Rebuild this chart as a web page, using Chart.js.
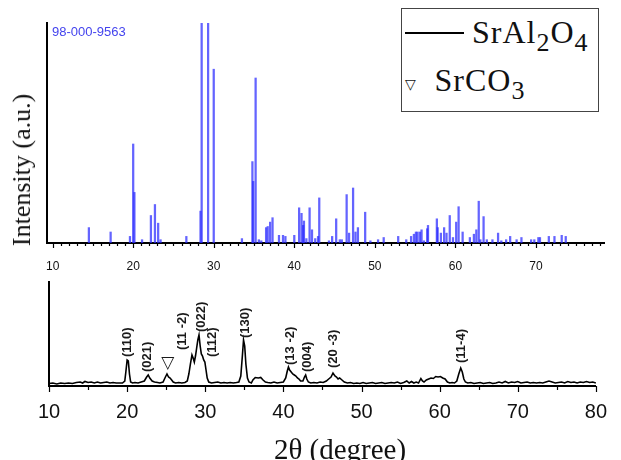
<!DOCTYPE html>
<html>
<head>
<meta charset="utf-8">
<script src="https://cdn.jsdelivr.net/npm/chart.js@4.4.1/dist/chart.umd.min.js"></script>
<style>
  html, body { margin: 0; padding: 0; background: #fff; }
  #wrap { position: relative; width: 621px; height: 460px; overflow: hidden; }
  canvas { position: absolute; left: 0; }
  #topCanvas { top: 0; }
  #bottomCanvas { top: 270px; }
  .serif { position: absolute; white-space: nowrap; color: #111;
           font-family: "Liberation Serif", "Times New Roman", serif; }
  #yTitle { font-size: 26px; left: 22px; top: 170px; transform: translate(-50%, -50%) rotate(-90deg); }
  #xTitle { font-size: 29px; left: 340px; top: 449px; transform: translate(-50%, -50%); }
  #refCode { position: absolute; left: 52px; top: 24px; font: 13px "Liberation Sans", Arial, sans-serif;
             color: #4444ee; line-height: 16px; }
  #legend { position: absolute; left: 401px; top: 8px; width: 198px; height: 104px; box-sizing: border-box;
            border: 1.5px solid #444; background: #fff; }
  #legend .line { position: absolute; left: 2.5px; top: 22.5px; width: 59px; height: 2px; background: #000; }
  #legend .txt { position: absolute; font-size: 32px; line-height: 32px; letter-spacing: 1px; }
  #legend .sub { font-size: 26px; position: relative; top: 8px; }
  #legend .tri { position: absolute; left: 3px; top: 68px; font: 14px "DejaVu Sans", sans-serif; line-height: 14px; color: #111; }
</style>
</head>
<body>
<div id="wrap">
  <canvas id="topCanvas" width="621" height="280"></canvas>
  <canvas id="bottomCanvas" width="621" height="190"></canvas>
  <div id="refCode">98-000-9563</div>
  <div id="yTitle" class="serif">Intensity (a.u.)</div>
  <div id="xTitle" class="serif">2θ (degree)</div>
  <div id="legend">
    <div class="line"></div>
    <div class="txt serif" style="left:70px; top:6.5px;">SrAl<span class="sub">2</span>O<span class="sub">4</span></div>
    <div class="tri">▽</div>
    <div class="txt serif" style="left:32.5px; top:54.5px;">SrCO<span class="sub">3</span></div>
  </div>
</div>

<script>
// ── DATA ─────────────────────────────────────────────
// reference card 98-000-9563 : stick positions (2θ) and relative heights (%)
const refAngles = [
  14.5, 17.2, 19.6, 20.0, 20.15, 21.1, 22.2, 22.7, 23.1, 23.4, 26.6,
  28.36, 28.5, 29.3, 30.0, 33.5, 34.8, 34.9, 35.2, 35.6, 35.9,
  36.5, 36.7, 37.0, 37.3, 38.1, 38.6, 38.9, 40.0, 40.6, 40.9, 41.1, 41.2,
  41.5, 41.9, 42.2, 42.6, 42.95, 43.1, 44.3, 44.7, 45.2, 45.65, 45.9,
  46.5, 46.8, 47.3, 47.6, 47.9, 48.8, 49.45, 50.4, 51.1, 52.9, 53.9,
  54.5, 54.85, 55.1, 55.3, 55.6, 55.8, 56.1, 56.5, 56.6, 57.7, 57.8,
  58.2, 58.6, 58.9, 59.3, 59.7, 60.1, 60.4, 60.9, 61.8, 62.3, 62.6,
  62.9, 63.1, 63.5, 63.9, 64.6, 65.3, 65.7, 66.3, 66.8, 67.6, 68.2,
  69.4, 69.8, 70.3, 70.5, 71.6, 72.3, 73.2, 73.7
];
const refIntensity = [
  7, 5, 3, 45, 23, 1.5, 12.5, 17.5, 9, 1.5, 3,
  14.5, 100, 100, 79, 2, 37, 28, 75, 1.5, 1,
  7, 7.5, 9.5, 11.5, 3.5, 3.5, 3, 3.5, 16, 13.5, 8, 10,
  2, 16, 6, 2, 3, 20.5, 1, 3, 11, 1.5, 1.5,
  22, 4.5, 25, 5, 7, 14, 1, 1.5, 2.5, 3, 1.5,
  3, 4, 5, 5, 5, 6, 1, 6.5, 8, 11, 7,
  4.5, 7, 4.5, 12.5, 2.5, 9.5, 16.5, 5, 2.5, 4, 6,
  19, 1.5, 12, 1.5, 1.5, 4.5, 1, 1.5, 3, 1.5, 2.5,
  1.5, 1.5, 2.5, 2.5, 3, 3, 3.5, 3
];

// measured pattern (2θ, intensity a.u.)
const xrdAngle = [
  10.0, 10.5, 11.0, 11.5, 12.0, 12.5, 13.0, 13.5, 14.0, 14.3, 14.6, 15.0, 15.4, 15.8,
  16.2, 16.6, 17.0, 17.4, 17.8, 18.2, 18.6, 19.0, 19.4, 19.7, 19.85, 20.0, 20.15, 20.3,
  20.45, 20.7, 21.0, 21.4, 21.8, 22.2, 22.5, 22.7, 22.9, 23.2, 23.5, 23.9, 24.2, 24.6,
  24.9, 25.1, 25.3, 25.5, 25.7, 25.9, 26.2, 26.6, 27.0, 27.4, 27.7, 27.9, 28.1, 28.3,
  28.45, 28.6, 28.75, 28.9, 29.05, 29.2, 29.35, 29.5, 29.65, 29.8, 29.95, 30.1, 30.25, 30.45,
  30.8, 31.2, 31.6, 32.0, 32.4, 32.8, 33.2, 33.6, 34.0, 34.3, 34.55, 34.75, 34.9, 35.05,
  35.2, 35.4, 35.6, 35.9, 36.1, 36.4, 36.8, 37.1, 37.4, 37.7, 38.0, 38.4, 38.8, 39.2,
  39.6, 40.0, 40.3, 40.5, 40.65, 40.8, 41.0, 41.2, 41.4, 41.6, 41.8, 42.0, 42.2, 42.5,
  42.7, 42.85, 43.0, 43.2, 43.5, 43.9, 44.3, 44.7, 45.1, 45.5, 45.8, 46.1, 46.35, 46.6,
  46.8, 47.0, 47.2, 47.5, 47.8, 48.2, 48.6, 49.0, 49.4, 49.8, 50.2, 50.6, 51.0, 51.4,
  51.8, 52.2, 52.6, 53.0, 53.4, 53.8, 54.2, 54.6, 55.0, 55.4, 55.8, 56.1, 56.4, 56.7,
  57.0, 57.3, 57.6, 57.8, 58.0, 58.3, 58.6, 58.9, 59.2, 59.5, 59.8, 60.1, 60.4, 60.7,
  61.0, 61.3, 61.6, 61.9, 62.2, 62.45, 62.7, 62.9, 63.1, 63.3, 63.6, 64.0, 64.4, 64.8,
  65.2, 65.6, 66.0, 66.4, 66.8, 67.2, 67.6, 68.0, 68.4, 68.8, 69.2, 69.6, 70.0, 70.4,
  70.8, 71.2, 71.6, 72.0, 72.4, 72.8, 73.2, 73.6, 74.0, 74.4, 74.8, 75.2, 75.6, 76.0,
  76.4, 76.8, 77.2, 77.6, 78.0, 78.4, 78.8, 79.2, 79.6, 80.0
];
const xrdCounts = [
  2.5, 3, 2, 3, 2.5, 3, 2.5, 3.5, 4, 3, 4.5, 3.5, 4, 3,
  4, 3, 3.5, 4, 3, 3.5, 3, 3, 3, 5, 15, 26, 25, 12,
  4, 3, 3.5, 3, 4, 5, 9, 11, 8, 5, 4, 3.5, 3, 4,
  9, 12, 9, 8, 6, 4, 3, 3.5, 3, 3.5, 5, 12, 22, 31,
  28, 24, 30, 38, 46, 51, 40, 32, 30, 26, 24, 16, 8, 4,
  3, 3.5, 4, 3, 3.5, 3, 3.5, 3, 3.5, 4, 10, 30, 46, 40,
  22, 8, 4, 3, 6, 8.5, 8, 8.5, 6, 4, 3.5, 3, 4, 3,
  3.5, 4, 8, 15, 19, 16, 14, 12, 11, 10, 8, 7, 5, 5,
  9, 11, 7, 4, 3, 3.5, 3, 4, 3.5, 5, 7, 9, 13, 10,
  9, 7, 8, 6, 4, 3, 3.5, 2.5, 3, 2.5, 3.5, 2.5, 3, 3.5,
  2.5, 3, 3.5, 2.5, 3, 3.5, 3, 4, 2.5, 3.5, 5, 3, 4.5, 3,
  4, 3, 7.5, 5, 4, 6, 7, 8, 7.5, 9.5, 9, 9.5, 8, 7,
  4, 3, 3.5, 3, 5, 12, 18, 14, 7, 4, 3, 3.5, 2.5, 3,
  3.5, 2.5, 3, 3.5, 2.5, 3, 4, 3, 4.5, 3, 4, 3.5, 4.5, 3,
  3.5, 4, 3, 3.5, 3, 3.5, 3, 4, 5, 4, 3, 3.5, 4, 3,
  4.5, 3.5, 4, 3, 4, 3.5, 4.5, 3.5, 4, 3
];

// peak indexing labels (2θ, bottom of label in a.u.)
const peakLabels = ['(110)', '(021)', '(11 -2)', '(022)', '(112)', '(130)', '(13 -2)', '(004)', '(20 -3)', '(11-4)'];
const peakLabelAngle = [20.0, 22.65, 27.05, 29.55, 30.95, 35.15, 40.9, 43.1, 46.4, 62.8];
const peakLabelBase = [29, 14, 36, 54, 29, 48, 21, 14, 18, 23];
// SrCO3 marker
const carbonateAngle = [25.2];
const carbonateBase = [16];

// tick labels
const topTickLabels = [10, 20, 30, 40, 50, 60, 70];
const bottomTickLabels = [10, 20, 30, 40, 50, 60, 70, 80];


// ── HELPERS ──────────────────────────────────────────
Chart.defaults.font.family = "'Liberation Sans', Arial, sans-serif";
Chart.defaults.color = '#111';

// small tick marks under the x axis, long ones on the labelled values
const tickMarks = {
  id: 'tickMarks',
  afterDraw(chart, args, opts) {
    const xs = chart.scales.x;
    const ctx = chart.ctx;
    ctx.save();
    ctx.strokeStyle = '#000';
    ctx.lineWidth = 1.2;
    xs.ticks.forEach(t => {
      const px = Math.round(xs.getPixelForValue(t.value)) + 0.5;
      const len = opts.major.includes(t.value) ? opts.majorLen : opts.minorLen;
      ctx.beginPath();
      ctx.moveTo(px, xs.top);
      ctx.lineTo(px, xs.top + len);
      ctx.stroke();
    });
    ctx.restore();
  }
};

// rotated hkl labels above the peaks
const peakNames = {
  id: 'peakNames',
  afterDatasetsDraw(chart) {
    const xs = chart.scales.x, ys = chart.scales.y;
    const ctx = chart.ctx;
    ctx.save();
    ctx.fillStyle = '#1a1a1a';
    ctx.font = "bold 13px 'Liberation Sans', Arial, sans-serif";
    ctx.textAlign = 'left';
    ctx.textBaseline = 'middle';
    peakLabels.forEach((txt, i) => {
      ctx.save();
      ctx.translate(xs.getPixelForValue(peakLabelAngle[i]), ys.getPixelForValue(peakLabelBase[i]));
      ctx.rotate(-Math.PI / 2);
      ctx.fillText(txt, 0, 0);
      ctx.restore();
    });
    ctx.font = "17px 'DejaVu Sans', sans-serif";
    ctx.textAlign = 'center';
    ctx.textBaseline = 'bottom';
    carbonateAngle.forEach((a, i) => {
      ctx.fillText('▽', xs.getPixelForValue(a), ys.getPixelForValue(carbonateBase[i]) + 2);
    });
    ctx.restore();
  }
};

function everyUnit(from, to, step) {
  const out = [];
  for (let v = from; v <= to + 1e-9; v += step) out.push(Math.round(v * 10) / 10);
  return out;
}


// ── TOP: REFERENCE STICKS ────────────────────────────
const topMinor = everyUnit(10, 78, 1);

new Chart(document.getElementById('topCanvas'), {
  type: 'bar',
  data: {
    datasets: [{
      data: refAngles.map((a, i) => ({ x: a, y: refIntensity[i] })),
      backgroundColor: 'rgba(40,40,255,0.72)',
      barThickness: 1.6
    }]
  },
  options: {
    responsive: false,
    animation: false,
    layout: { padding: { top: 23, right: 17, left: 0, bottom: 0 } },
    plugins: {
      legend: { display: false },
      tooltip: { enabled: false },
      tickMarks: { major: topTickLabels, majorLen: 5, minorLen: 3 }
    },
    scales: {
      x: {
        type: 'linear',
        min: 9.3,
        max: 78.45,
        offset: false,
        grid: { display: false, drawTicks: false },
        border: { display: true, color: '#000', width: 2 },
        afterBuildTicks: s => { s.ticks = topMinor.map(v => ({ value: v })); },
        ticks: {
          autoSkip: false,
          maxRotation: 0,
          padding: 16,
          font: { size: 12 },
          callback: v => topTickLabels.includes(v) ? String(v) : ''
        },
        afterFit: s => { s.height = 37; }
      },
      y: {
        min: 0,
        max: 100,
        grid: { display: false, drawTicks: false },
        border: { display: true, color: '#000', width: 2 },
        ticks: { display: false },
        afterFit: s => { s.width = 47; }
      }
    }
  },
  plugins: [tickMarks]
});


// ── BOTTOM: MEASURED PATTERN ─────────────────────────
const bottomMinor = everyUnit(10, 80, 5);

new Chart(document.getElementById('bottomCanvas'), {
  type: 'line',
  data: {
    datasets: [{
      data: xrdAngle.map((a, i) => ({ x: a, y: xrdCounts[i] })),
      borderColor: '#000',
      borderWidth: 1.6,
      pointRadius: 0,
      tension: 0
    }]
  },
  options: {
    responsive: false,
    animation: false,
    layout: { padding: { top: 12, right: 14, left: 0, bottom: 0 } },
    plugins: {
      legend: { display: false },
      tooltip: { enabled: false },
      tickMarks: { major: bottomTickLabels, majorLen: 6, minorLen: 4 }
    },
    scales: {
      x: {
        type: 'linear',
        min: 10,
        max: 80,
        grid: { display: false, drawTicks: false },
        border: { display: true, color: '#000', width: 2 },
        afterBuildTicks: s => { s.ticks = bottomMinor.map(v => ({ value: v })); },
        ticks: {
          autoSkip: false,
          maxRotation: 0,
          padding: 14,
          font: { size: 20 },
          callback: v => bottomTickLabels.includes(v) ? String(v) : ''
        },
        afterFit: s => { s.height = 74; }
      },
      y: {
        min: 0,
        max: 104,
        grid: { display: false, drawTicks: false },
        border: { display: true, color: '#000', width: 2 },
        ticks: { display: false },
        afterFit: s => { s.width = 49; }
      }
    }
  },
  plugins: [tickMarks, peakNames]
});
</script>
</body>
</html>
